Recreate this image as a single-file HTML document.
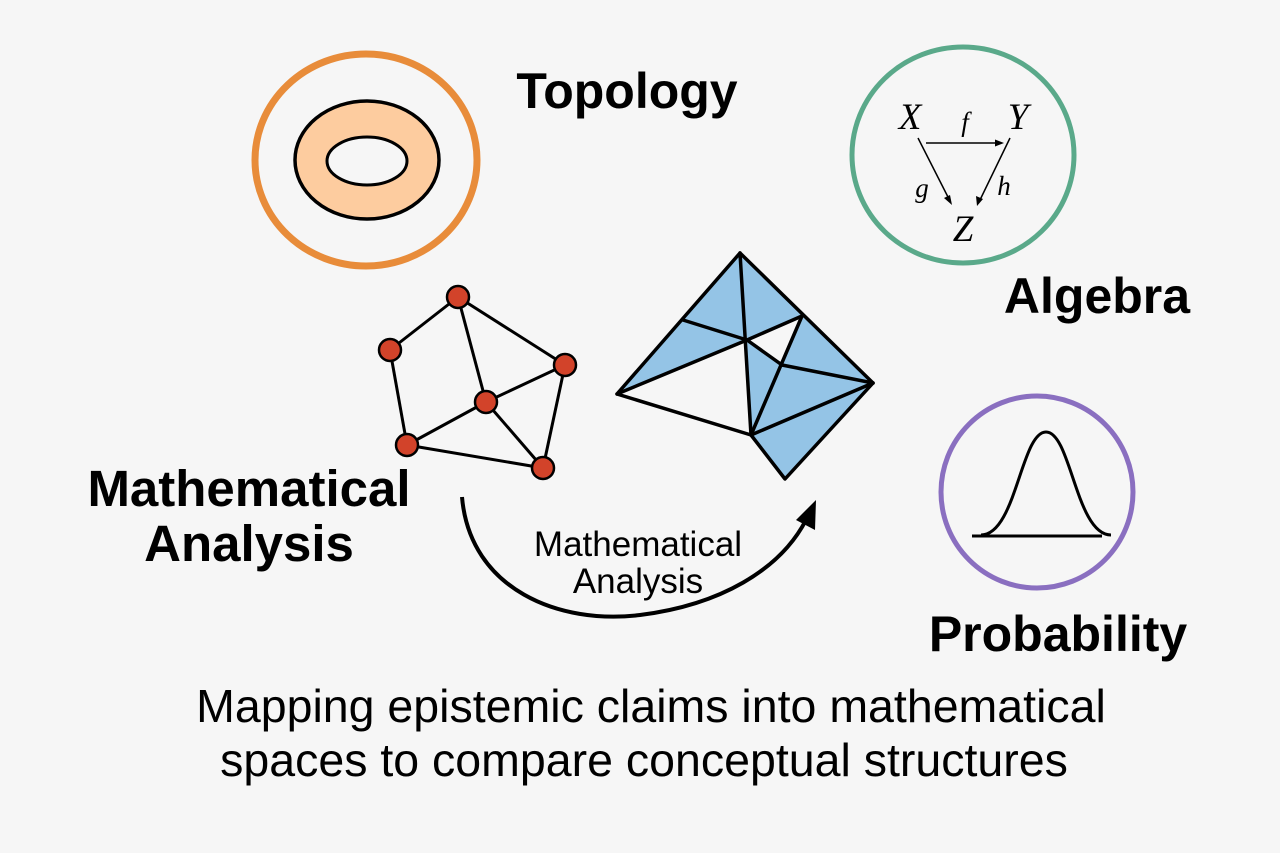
<!DOCTYPE html>
<html><head><style>
body{margin:0;background:#f6f6f6;}
svg{display:block}
text{font-family:"Liberation Sans",sans-serif}
</style></head><body>
<svg width="1280" height="853" viewBox="0 0 1280 853" xmlns="http://www.w3.org/2000/svg">
<rect width="1280" height="853" fill="#f6f6f6"/>
<!-- Topology -->
<ellipse cx="366" cy="160" rx="111" ry="106" fill="none" stroke="#e88c3a" stroke-width="7"/>
<ellipse cx="367" cy="160" rx="72" ry="59" fill="#fdcc9f" stroke="#000" stroke-width="3.5"/>
<ellipse cx="367" cy="161" rx="40" ry="24" fill="#f6f6f6" stroke="#000" stroke-width="3"/>
<text x="627" y="108" font-size="50" font-weight="bold" text-anchor="middle">Topology</text>
<!-- Algebra -->
<ellipse cx="963" cy="155" rx="111" ry="108" fill="none" stroke="#5aa98a" stroke-width="5"/>
<g font-style="italic" fill="#000">
<text x="910" y="129" font-size="37" text-anchor="middle" style="font-family:'Liberation Serif',serif">X</text>
<text x="1018" y="129" font-size="37" text-anchor="middle" style="font-family:'Liberation Serif',serif">Y</text>
<text x="963" y="241" font-size="37" text-anchor="middle" style="font-family:'Liberation Serif',serif">Z</text>
<text x="965" y="131" font-size="27" text-anchor="middle" style="font-family:'Liberation Serif',serif">f</text>
<text x="922" y="197" font-size="27" text-anchor="middle" style="font-family:'Liberation Serif',serif">g</text>
<text x="1004" y="195" font-size="27" text-anchor="middle" style="font-family:'Liberation Serif',serif">h</text>
</g>
<g stroke="#000" stroke-width="1.5" fill="none">
<line x1="926" y1="143" x2="1000" y2="143"/>
<line x1="918" y1="138" x2="950" y2="201"/>
<line x1="1010" y1="138" x2="979" y2="202"/>
</g>
<g fill="#000">
<polygon points="1004,143 995,139.5 995,146.5"/>
<polygon points="952,205 944,198 950,195"/>
<polygon points="977,206 976,196 983,199"/>
</g>
<text x="1097" y="313" font-size="50" font-weight="bold" text-anchor="middle">Algebra</text>
<!-- Probability -->
<circle cx="1037" cy="492" r="96" fill="none" stroke="#8a6fc0" stroke-width="5"/>
<line x1="972" y1="536" x2="1102" y2="536" stroke="#000" stroke-width="3"/>
<path d="M985,535 C1020,535 1025,432 1050,432 C1075,432 1080,535 1115,535" fill="none" stroke="#000" stroke-width="3" transform="translate(-4,0)"/>
<text x="1058" y="651" font-size="50" font-weight="bold" text-anchor="middle">Probability</text>
<!-- Triangulated shape -->
<g>
<polygon points="740,253 617,394 683,320" fill="#94c4e6"/>
<polygon points="740,253 683,320 747,340" fill="#94c4e6"/>
<polygon points="683,320 617,394 747,340" fill="#94c4e6"/>
<polygon points="740,253 747,340 802,316" fill="#94c4e6"/>
<polygon points="747,340 782,365 751,435" fill="#94c4e6"/>
<polygon points="802,316 873,383 782,365" fill="#94c4e6"/>
<polygon points="782,365 873,383 751,435" fill="#94c4e6"/>
<polygon points="751,435 873,383 785,479" fill="#94c4e6"/>
</g>
<g stroke="#000" stroke-width="3.5" fill="none" stroke-linecap="round" stroke-linejoin="round">
<polygon points="740,253 873,383 785,479 751,435 617,394"/>
<line x1="740" y1="253" x2="751" y2="435"/>
<line x1="683" y1="320" x2="747" y2="340"/>
<line x1="617" y1="394" x2="747" y2="340"/>
<line x1="747" y1="340" x2="802" y2="316"/>
<line x1="747" y1="340" x2="782" y2="365"/>
<line x1="802" y1="316" x2="751" y2="435"/>
<line x1="782" y1="365" x2="873" y2="383"/>
<line x1="751" y1="435" x2="873" y2="383"/>
</g>
<!-- Graph -->
<g stroke="#000" stroke-width="3">
<line x1="458" y1="297" x2="390" y2="350"/>
<line x1="458" y1="297" x2="565" y2="365"/>
<line x1="458" y1="297" x2="486" y2="402"/>
<line x1="390" y1="350" x2="407" y2="445"/>
<line x1="486" y1="402" x2="565" y2="365"/>
<line x1="486" y1="402" x2="407" y2="445"/>
<line x1="486" y1="402" x2="543" y2="468"/>
<line x1="565" y1="365" x2="543" y2="468"/>
<line x1="407" y1="445" x2="543" y2="468"/>
</g>
<g fill="#d2432a" stroke="#000" stroke-width="2.5">
<circle cx="458" cy="297" r="11"/>
<circle cx="390" cy="350" r="11"/>
<circle cx="565" cy="365" r="11"/>
<circle cx="486" cy="402" r="11"/>
<circle cx="407" cy="445" r="11"/>
<circle cx="543" cy="468" r="11"/>
</g>
<text x="249" y="506" font-size="51" font-weight="bold" text-anchor="middle">Mathematical</text>
<text x="249" y="561" font-size="51" font-weight="bold" text-anchor="middle">Analysis</text>
<!-- Arrow -->
<path d="M462,497 C470,590 560,625 640,615 C720,605 780,570 806,520" fill="none" stroke="#000" stroke-width="4"/>
<polygon points="816,500 796,520 815,530" fill="#000"/>
<text x="638" y="556" font-size="35" text-anchor="middle">Mathematical</text>
<text x="638" y="593" font-size="35" text-anchor="middle">Analysis</text>
<!-- Caption -->
<text x="651" y="722" font-size="46.5" text-anchor="middle">Mapping epistemic claims into mathematical</text>
<text x="644" y="776" font-size="46.5" text-anchor="middle">spaces to compare conceptual structures</text>
</svg>
</body></html>
